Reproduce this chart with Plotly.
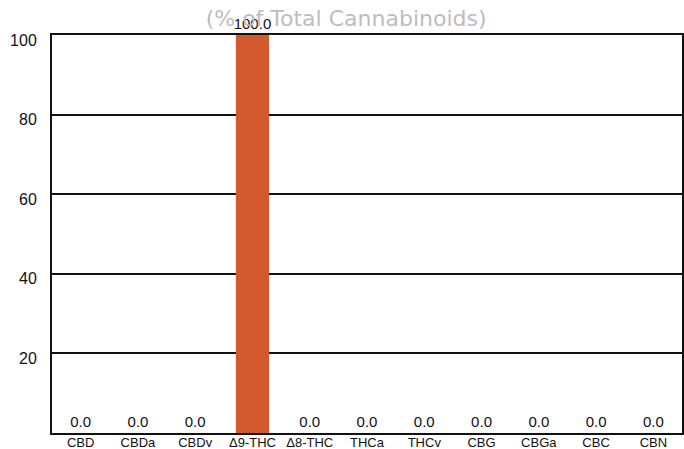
import plotly.graph_objects as go

categories = ["CBD", "CBDa", "CBDv", "Δ9-THC", "Δ8-THC", "THCa", "THCv", "CBG", "CBGa", "CBC", "CBN"]
values = [0.0, 0.0, 0.0, 100.0, 0.0, 0.0, 0.0, 0.0, 0.0, 0.0, 0.0]
y_ticks = [20, 40, 60, 80, 100]
title_text = "(% of Total Cannabinoids)"

fig = go.Figure()
fig.add_trace(go.Bar(
    x=categories, y=values,
    marker=dict(color="#D25A2C", line=dict(width=0)),
    width=0.58,
    text=[f"{v:.1f}" for v in values],
    textposition="outside",
    constraintext="none",
    cliponaxis=False,
    textfont=dict(family="Liberation Sans, Arial, sans-serif", size=15, color="#111"),
))

fig.update_layout(
    width=684, height=449,
    margin=dict(l=52, r=2, t=35, b=16),
    paper_bgcolor="white", plot_bgcolor="white",
    showlegend=False,
    font=dict(family="Liberation Sans, Arial, sans-serif", color="#111"),
    title=dict(
        text=title_text, x=0.506, xref="container", xanchor="center",
        y=0.96, yref="container", yanchor="middle",
        font=dict(size=22, color="#bdbdbd", family="DejaVu Sans, sans-serif"),
    ),
)
fig.update_xaxes(
    showline=True, linecolor="#111", linewidth=2, mirror=True,
    ticks="", tickfont=dict(size=13, color="#111", family="Liberation Sans Narrow, Arial Narrow, sans-serif"),
    showgrid=False, automargin=False, ticklabelstandoff=-4,
)
fig.update_yaxes(
    range=[0, 100], tickvals=y_ticks,
    showgrid=True, gridcolor="#111", gridwidth=1.5,
    showline=True, linecolor="#111", linewidth=2, mirror=True,
    ticks="", tickfont=dict(size=16, color="#111"), ticklabelstandoff=10,
    ticklabelshift=5,
    zeroline=False, layer="below traces", automargin=False,
)
fig.write_html(
    "out.html",
    config={"displayModeBar": False},
    post_script="document.body.style.margin='0';document.body.style.overflow='hidden';",
)
